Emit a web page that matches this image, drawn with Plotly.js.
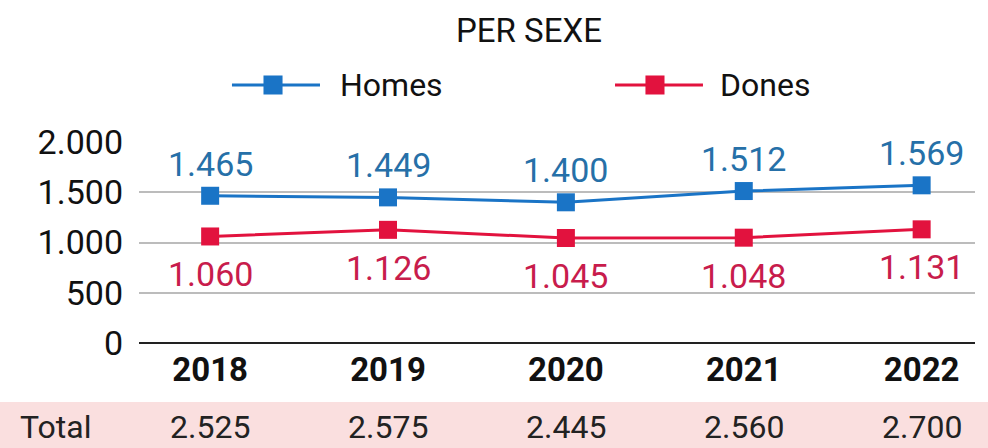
<!DOCTYPE html>
<html>
<head>
<meta charset="utf-8">
<script src="https://cdn.plot.ly/plotly-3.0.1.min.js"></script>
<style>
  html, body { margin: 0; padding: 0; background: #fff; }
  #myDiv { width: 988px; height: 448px; }
</style>
</head>
<body>
<div id="myDiv"></div>
<script>
var years = ['2018', '2019', '2020', '2021', '2022'];
var homes = [1465, 1449, 1400, 1512, 1569];
var dones = [1060, 1126, 1045, 1048, 1131];
var totals = [2525, 2575, 2445, 2560, 2700];

var blue = '#1a74c6';
var red = '#e2123e';
var font = 'Roboto, "Open Sans", sans-serif';

function fmt(v) {
  return String(v).replace(/\B(?=(\d{3})+(?!\d))/g, '.');
}

var trace1 = {
  x: years,
  y: homes,
  name: 'Homes',
  type: 'scatter',
  mode: 'lines+markers',
  line: { color: blue, width: 3 },
  marker: { color: blue, symbol: 'square', size: 18 }
};

var trace2 = {
  x: years,
  y: dones,
  name: 'Dones',
  type: 'scatter',
  mode: 'lines+markers',
  line: { color: red, width: 3 },
  marker: { color: red, symbol: 'square', size: 18 }
};

var annotations = [];
var shapes = [];

// pink band behind the totals row
shapes.push({
  type: 'rect', xref: 'paper', yref: 'paper', layer: 'below',
  x0: -0.17, x1: 1.02, y0: -0.2935, y1: -0.53,
  fillcolor: '#fadfdf', line: { width: 0 }
});

years.forEach(function (yr, i) {
  // x given as category index (a string like '2018' is read as a number)
  annotations.push({
    x: i, y: homes[i], xref: 'x', yref: 'y',
    text: fmt(homes[i]), showarrow: false, yshift: 32,
    font: { family: font, size: 34, color: '#2670a8' }
  });
  annotations.push({
    x: i, y: dones[i], xref: 'x', yref: 'y',
    text: fmt(dones[i]), showarrow: false, yshift: -38,
    font: { family: font, size: 34, color: '#c81c4c' }
  });
  annotations.push({
    x: i, y: -0.42, xref: 'x', yref: 'paper', yanchor: 'middle',
    text: fmt(totals[i]), showarrow: false,
    font: { family: font, size: 32, color: '#222' }
  });
});
annotations.push({
  x: -0.145, y: -0.42, xref: 'paper', yref: 'paper',
  xanchor: 'left', yanchor: 'middle',
  text: 'Total', showarrow: false,
  font: { family: font, size: 32, color: '#222' }
});

// legend drawn by hand so the line keys are long like the original
var legendItems = [
  { trace: trace1, x0: 0.1112, x1: 0.2165, xm: 0.1603, xt: 0.238 },
  { trace: trace2, x0: 0.5694, x1: 0.6746, xm: 0.6172, xt: 0.6926 }
];
var ly = 1.2836;
legendItems.forEach(function (it) {
  var c = it.trace.line.color;
  shapes.push({
    type: 'line', xref: 'paper', yref: 'paper',
    x0: it.x0, x1: it.x1, y0: ly, y1: ly,
    line: { color: c, width: 3 }
  });
  shapes.push({
    type: 'rect', xref: 'paper', yref: 'paper',
    x0: it.xm - 0.0114, x1: it.xm + 0.0114, y0: ly - 0.0473, y1: ly + 0.0473,
    fillcolor: c, line: { width: 0 }
  });
  annotations.push({
    x: it.xt, y: ly, xref: 'paper', yref: 'paper',
    xanchor: 'left', yanchor: 'middle',
    text: it.trace.name, showarrow: false,
    font: { family: font, size: 32, color: '#111' }
  });
});

var layout = {
  width: 988,
  height: 448,
  margin: { l: 139, r: 13, t: 142, b: 105 },
  paper_bgcolor: '#fff',
  plot_bgcolor: '#fff',
  showlegend: false,
  separators: ',.',
  title: {
    text: 'PER SEXE',
    x: 0.5354, xref: 'container', xanchor: 'center',
    y: 0.933, yanchor: 'middle',
    font: { family: font, size: 33, color: '#111' }
  },
  xaxis: {
    type: 'category',
    range: [-0.4, 4.3],
    showgrid: false,
    showline: false,
    zeroline: false,
    ticks: '',
    tickfont: { family: font, size: 33, color: '#111', weight: 'bold' },
    ticklabelstandoff: 4
  },
  yaxis: {
    range: [0, 2000],
    tickvals: [0, 500, 1000, 1500, 2000],
    tickformat: ',d',
    showgrid: true,
    gridcolor: '#bcbcbc',
    gridwidth: 2,
    zeroline: true,
    zerolinecolor: '#222',
    zerolinewidth: 2,
    ticks: '',
    ticklabelstandoff: 15,
    tickfont: { family: font, size: 34, color: '#111' }
  },
  shapes: shapes,
  annotations: annotations
};

Plotly.newPlot('myDiv', [trace1, trace2], layout, { displayModeBar: false, staticPlot: true });
</script>
</body>
</html>
